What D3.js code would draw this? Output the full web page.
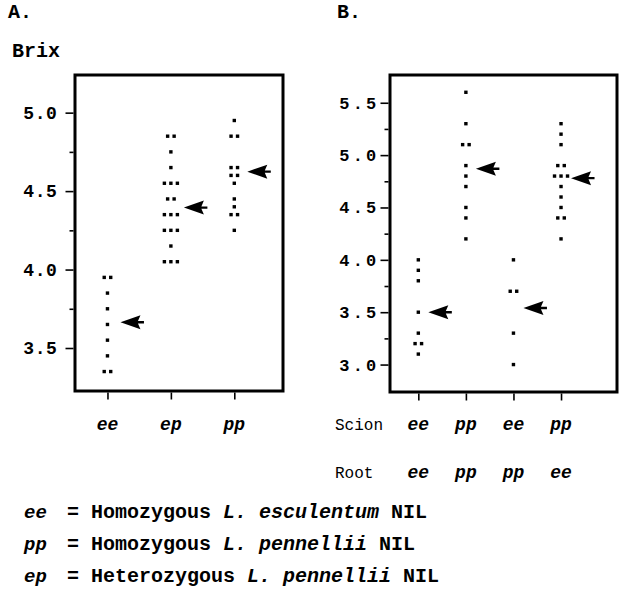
<!DOCTYPE html>
<html>
<head>
<meta charset="utf-8">
<script src="https://cdn.jsdelivr.net/npm/d3@7"></script>
<style>
  body { margin: 0; background: #fff; }
  svg { display: block; font-family: "Liberation Mono", "Courier New", monospace; }
</style>
</head>
<body>
<svg width="633" height="598"></svg>
<script>
const svg = d3.select('svg');

// panel A: genotypes
const catsA = ['ee', 'ep', 'pp'];
const brixA_ee = [3.95, 3.95, 3.85, 3.75, 3.65, 3.55, 3.45, 3.35, 3.35];
const brixA_ep = [4.85, 4.85, 4.75, 4.65, 4.55, 4.55, 4.55, 4.45, 4.45, 4.35, 4.35, 4.35,
                  4.25, 4.25, 4.25, 4.15, 4.05, 4.05, 4.05];
const brixA_pp = [4.95, 4.85, 4.85, 4.65, 4.65, 4.6, 4.6, 4.55, 4.45, 4.4, 4.35, 4.35, 4.25];
const meansA = [3.664, 4.395, 4.624];
const ticksA = [3.5, 4.0, 4.5, 5.0];
const minorA = [3.75, 4.25, 4.75];

// panel B: grafts (scion / root)
const scionB = ['ee', 'pp', 'ee', 'pp'];
const rootB = ['ee', 'pp', 'pp', 'ee'];
const brixB_1 = [4.0, 3.9, 3.8, 3.5, 3.3, 3.2, 3.2, 3.1];
const brixB_2 = [5.6, 5.3, 5.1, 5.1, 4.9, 4.8, 4.7, 4.5, 4.4, 4.2];
const brixB_3 = [4.0, 3.7, 3.7, 3.3, 3.0];
const brixB_4 = [5.3, 5.2, 5.1, 4.9, 4.9, 4.8, 4.8, 4.8, 4.7, 4.6, 4.5, 4.4, 4.4, 4.2];
const meansB = [3.5, 4.87, 3.54, 4.78];
const ticksB = [3.0, 3.5, 4.0, 4.5, 5.0, 5.5];
const minorB = [3.25, 3.75, 4.25, 4.75, 5.25];

const legendRows = [
  { code: 'ee', pre: '= Homozygous ', sp: 'L. esculentum', post: ' NIL' },
  { code: 'pp', pre: '= Homozygous ', sp: 'L. pennellii', post: ' NIL' },
  { code: 'ep', pre: '= Heterozygous ', sp: 'L. pennellii', post: ' NIL' }
];

const dotGap = 6.5;
const dot = 3.4;

// left-pointing arrow with a short tail
const arrowPath = 'M0,0 L20,-7 L17.5,-1.2 L23.5,-1.2 L23.5,1.2 L17.5,1.2 L20,7 Z';

const drawPanel = opt => {
  const { box, yDomain, groups, means, major, minor, xScale, tickFont, tickSpacing, tickPad, arrowOff } = opt;

  const y = d3.scaleLinear().domain(yDomain).range([box.bottom, box.top]);
  const g = svg.append('g');

  // frame
  g.append('rect')
    .attr('x', box.left).attr('y', box.top)
    .attr('width', box.right - box.left).attr('height', box.bottom - box.top)
    .attr('fill', 'none').attr('stroke', '#000').attr('stroke-width', 3);

  // y axis, labelled + minor ticks
  const yAx = g.append('g').attr('transform', `translate(${box.left - 1.5},0)`)
    .call(d3.axisLeft(y).tickValues(major).tickSize(8).tickPadding(tickPad).tickFormat(d3.format('.1f')));
  yAx.append('g')
    .call(d3.axisLeft(y).tickValues(minor).tickSize(4).tickFormat(''));
  yAx.selectAll('.domain').remove();
  yAx.selectAll('line').attr('stroke-width', 1.6);
  yAx.selectAll('text')
    .attr('fill', '#000')
    .style('font-family', '"Liberation Mono", monospace')
    .style('font-size', tickFont + 'px')
    .style('font-weight', 'bold')
    .style('letter-spacing', tickSpacing + 'px');

  // x ticks
  const xAx = g.append('g').attr('transform', `translate(0,${box.bottom + 1.5})`)
    .call(d3.axisBottom(xScale).tickSize(7).tickFormat(''));
  xAx.selectAll('.domain').remove();
  xAx.selectAll('line').attr('stroke-width', 1.6);

  // dots: equal values side by side
  groups.forEach((vals, i) => {
    const rows = d3.groups(vals, v => v);
    rows.forEach(([v, list]) => {
      list.forEach((_, j) => {
        const dx = (j - (list.length - 1) / 2) * dotGap;
        g.append('rect')
          .attr('x', xScale(i) + dx - dot / 2)
          .attr('y', y(v) - dot / 2)
          .attr('width', dot).attr('height', dot)
          .attr('fill', '#000');
      });
    });
  });

  // mean arrows
  g.selectAll('path.arrow').data(means).enter().append('path')
    .attr('class', 'arrow')
    .attr('d', arrowPath)
    .attr('transform', (d, i) => `translate(${xScale(i) + arrowOff},${y(d)})`)
    .attr('fill', '#000');
};

// ---- panel A
const boxA = { left: 75, right: 283, top: 75, bottom: 391 };
const xA = d3.scalePoint().domain(d3.range(catsA.length))
  .range([boxA.left, boxA.right]).padding(0.64).align(0.4);

drawPanel({
  box: boxA, yDomain: [3.226, 5.24],
  groups: [brixA_ee, brixA_ep, brixA_pp], means: meansA,
  major: ticksA, minor: minorA, xScale: xA,
  tickFont: 18, tickSpacing: 0.6, tickPad: 8, arrowOff: 13
});

svg.append('g').selectAll('text').data(catsA).enter().append('text')
  .attr('x', (d, i) => xA(i)).attr('y', 430)
  .attr('text-anchor', 'middle')
  .style('font-size', '18px').style('font-weight', 'bold').style('font-style', 'italic')
  .text(d => d);

// ---- panel B
const boxB = { left: 390, right: 617, top: 75, bottom: 392 };
const xB = d3.scalePoint().domain(d3.range(scionB.length))
  .range([boxB.left, boxB.right]).padding(0.886).align(0.336);

drawPanel({
  box: boxB, yDomain: [2.738, 5.765],
  groups: [brixB_1, brixB_2, brixB_3, brixB_4], means: meansB,
  major: ticksB, minor: minorB, xScale: xB,
  tickFont: 17, tickSpacing: 3.2, tickPad: 1, arrowOff: 10
});

const labelRow = (labels, yPos, name) => {
  svg.append('text').attr('x', 335).attr('y', yPos)
    .style('font-size', '16px').text(name);
  svg.append('g').selectAll('text').data(labels).enter().append('text')
    .attr('x', (d, i) => xB(i)).attr('y', yPos)
    .attr('text-anchor', 'middle')
    .style('font-size', '18px').style('font-weight', 'bold').style('font-style', 'italic')
    .text(d => d);
};
labelRow(scionB, 430, 'Scion');
labelRow(rootB, 478, 'Root');

// ---- titles
svg.append('text').attr('x', 8).attr('y', 18)
  .style('font-size', '20px').style('font-weight', 'bold').text('A.');
svg.append('text').attr('x', 337).attr('y', 18)
  .style('font-size', '20px').style('font-weight', 'bold').text('B.');
svg.append('text').attr('x', 12).attr('y', 57)
  .style('font-size', '20px').style('font-weight', 'bold').text('Brix');

// ---- legend
legendRows.forEach((r, i) => {
  const yPos = 518 + i * 32;
  svg.append('text').attr('x', 24).attr('y', yPos)
    .style('font-size', '19px').style('font-weight', 'bold').style('font-style', 'italic')
    .text(r.code);
  const t = svg.append('text').attr('x', 67).attr('y', yPos)
    .style('font-size', '20px').style('font-weight', 'bold')
    .attr('xml:space', 'preserve').style('white-space', 'pre');
  t.append('tspan').text(r.pre);
  t.append('tspan').style('font-style', 'italic').text(r.sp);
  t.append('tspan').text(r.post);
});
</script>
</body>
</html>
